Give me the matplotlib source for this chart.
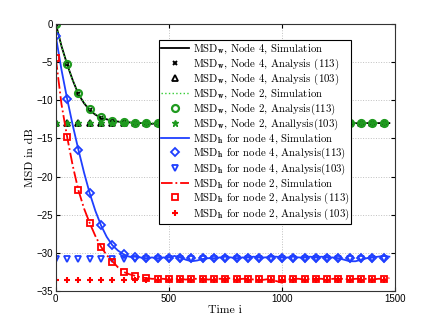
import matplotlib
matplotlib.use("Agg")
import matplotlib.pyplot as plt
import numpy as np

# analysis points, every 50 samples
t_marks = list(range(0, 1500, 50))
w4_analysis = [0.0, -5.3, -9.2, -11.3, -12.3, -12.7, -12.9, -13.0, -13.0, -13.0,
               -13.0, -13.0, -13.0, -13.0, -13.0, -13.0, -13.0, -13.0, -13.0, -13.0,
               -13.0, -13.0, -13.0, -13.0, -13.0, -13.0, -13.0, -13.0, -13.0, -13.0]
w2_analysis = [0.0, -5.3, -9.1, -11.2, -12.2, -12.7, -12.9, -13.0, -13.0, -13.0,
               -13.0, -13.0, -13.0, -13.0, -13.0, -13.0, -13.0, -13.0, -13.0, -13.0,
               -13.0, -13.0, -13.0, -13.0, -13.0, -13.0, -13.0, -13.0, -13.0, -13.0]
h4_analysis = [-1.6, -9.8, -16.5, -22.2, -26.4, -29.0, -30.1, -30.5, -30.7, -30.7,
               -30.7, -30.7, -30.7, -30.7, -30.7, -30.7, -30.7, -30.7, -30.7, -30.7,
               -30.7, -30.7, -30.7, -30.7, -30.7, -30.7, -30.7, -30.7, -30.7, -30.7]
h2_analysis = [-4.5, -14.8, -21.8, -26.1, -29.2, -31.2, -32.5, -33.0, -33.3, -33.4,
               -33.4, -33.4, -33.4, -33.4, -33.4, -33.4, -33.4, -33.4, -33.4, -33.4,
               -33.4, -33.4, -33.4, -33.4, -33.4, -33.4, -33.4, -33.4, -33.4, -33.4]

# steady-state analysis (103)
w4_ss = -13.0
w2_ss = -13.0
h4_ss = -30.8
h2_ss = -33.6

# simulation curves, every 25 samples
t_sim = list(range(0, 1500, 25))
w4_sim = [0.0, -2.9, -5.3, -7.4, -9.2, -10.4, -11.3, -11.9, -12.3, -12.5,
          -12.7, -12.8, -12.9, -12.9, -13.0, -13.0, -13.0, -13.1, -13.0, -13.0,
          -12.9, -13.0, -13.0, -13.0, -13.1, -13.0, -13.0, -13.0, -12.9, -13.0,
          -13.0, -13.0, -13.0, -13.1, -13.0, -13.0, -13.0, -13.0, -12.9, -13.0,
          -13.0, -13.0, -13.1, -13.0, -13.0, -13.0, -13.0, -13.0, -13.0, -12.9,
          -13.0, -13.0, -13.0, -13.0, -13.1, -13.0, -13.0, -13.0, -13.0, -13.0]
w2_sim = [0.0, -2.9, -5.3, -7.4, -9.1, -10.3, -11.2, -11.8, -12.2, -12.5,
          -12.7, -12.8, -12.9, -12.9, -13.0, -13.0, -13.0, -13.0, -13.0, -13.0,
          -13.0, -13.0, -13.0, -13.0, -13.0, -13.0, -13.0, -13.0, -13.0, -13.0,
          -13.0, -13.0, -13.0, -13.0, -13.0, -13.0, -13.0, -13.0, -13.0, -13.0,
          -13.0, -13.0, -13.0, -13.0, -13.0, -13.0, -13.0, -13.0, -13.0, -13.0,
          -13.0, -13.0, -13.0, -13.0, -13.0, -13.0, -13.0, -13.0, -13.0, -13.0]
h4_sim = [-1.6, -6.0, -9.8, -13.3, -16.5, -19.5, -22.2, -24.5, -26.4, -27.9,
          -29.0, -29.7, -30.2, -30.5, -30.5, -30.6, -30.7, -30.6, -30.7, -30.6,
          -30.6, -30.4, -30.6, -30.9, -31.1, -31.0, -30.8, -30.7, -30.7, -30.6,
          -30.5, -30.6, -30.7, -30.6, -30.6, -30.5, -30.6, -30.6, -30.5, -30.5,
          -30.6, -30.6, -30.5, -30.6, -30.6, -30.5, -30.6, -30.5, -30.6, -30.6,
          -30.7, -30.9, -31.1, -31.1, -30.9, -30.7, -30.6, -30.5, -30.4, -30.5]
h2_sim = [-4.5, -10.5, -14.8, -18.6, -21.8, -24.2, -26.1, -27.8, -29.2, -30.3,
          -31.1, -31.9, -32.5, -32.8, -33.0, -33.2, -33.3, -33.4, -33.4, -33.4,
          -33.5, -33.4, -33.4, -33.5, -33.4, -33.4, -33.4, -33.5, -33.4, -33.4,
          -33.4, -33.3, -33.5, -33.4, -33.4, -33.5, -33.6, -33.5, -33.4, -33.7,
          -33.9, -33.5, -33.4, -33.4, -33.5, -33.4, -33.4, -33.4, -33.5, -33.4,
          -33.4, -33.4, -33.5, -33.4, -33.4, -33.4, -33.5, -33.4, -33.4, -33.3]

plt.rcParams["mathtext.fontset"] = "cm"
plt.rcParams["font.family"] = ["Liberation Sans", "DejaVu Sans"]

fig = plt.figure(figsize=(4.36, 3.27), dpi=100)
ax = fig.add_axes([0.128, 0.110, 0.778, 0.817])

blue = "#1f3fff"
green = "#1f9a1f"
red = "#ff0000"
ms_ss = np.ones(len(t_marks))

ax.plot(t_sim, w4_sim, "-", color="black", lw=1.3,
        label=r"MSD$_{\mathbf{w}}$, Node 4, Simulation")
ax.plot(t_marks, w4_analysis, "x", color="black", ms=3, mew=1.4, ls="none",
        label=r"MSD$_{\mathbf{w}}$, Node 4, Analysis (113)")
ax.plot(t_marks, w4_ss * ms_ss, "^", color="black", mfc="none", ms=4.5, mew=1.3, ls="none",
        label=r"MSD$_{\mathbf{w}}$, Node 4, Analysis (103)")
ax.plot(t_sim, w2_sim, ":", color="#33cc33", lw=1.0,
        label=r"MSD$_{\mathbf{w}}$, Node 2, Simulation")
ax.plot(t_marks, w2_analysis, "o", color=green, mfc="none", ms=5, mew=1.6, ls="none",
        label=r"MSD$_{\mathbf{w}}$, Node 2, Analysis(113)")
ax.plot(t_marks, w2_ss * ms_ss, "*", color=green, ms=4.5, mew=1.0, ls="none",
        label=r"MSD$_{\mathbf{w}}$, Node 2, Anallysis(103)")
ax.plot(t_sim, h4_sim, "-", color=blue, lw=1.3,
        label=r"MSD$_{\mathbf{h}}$ for node 4, Simulation")
ax.plot(t_marks, h4_analysis, "D", color=blue, mfc="none", ms=4, mew=1.3, ls="none",
        label=r"MSD$_{\mathbf{h}}$ for node 4, Analysis(113)")
ax.plot(t_marks, h4_ss * ms_ss, "v", color=blue, mfc="none", ms=4.5, mew=1.3, ls="none",
        label=r"MSD$_{\mathbf{h}}$ for node 4, Analysis(103)")
ax.plot(t_sim, h2_sim, "-.", color=red, lw=1.3,
        label=r"MSD$_{\mathbf{h}}$ for node 2, Simulation")
ax.plot(t_marks, h2_analysis, "s", color=red, mfc="none", ms=4, mew=1.3, ls="none",
        label=r"MSD$_{\mathbf{h}}$ for node 2, Analysis (113)")
ax.plot(t_marks, h2_ss * ms_ss, "+", color=red, ms=4, mew=1.5, ls="none",
        label=r"MSD$_{\mathbf{h}}$ for node 2, Analysis (103)")

ax.set_xlim(0, 1500)
ax.set_ylim(-35, 0)
ax.set_xticks([0, 500, 1000, 1500])
ax.set_yticks([-35, -30, -25, -20, -15, -10, -5, 0])
ax.tick_params(direction="in", labelsize=7, length=3, top=True, right=True, pad=2)
ax.grid(True, ls=":", color="#c0c0c0", lw=0.7)
for s in ax.spines.values():
    s.set_linewidth(0.8)
    s.set_color("#333333")

ax.set_xlabel("Time i", family="cmr10", fontsize=8.5, labelpad=1)
ax.set_ylabel("MSD in dB", family="cmr10", fontsize=8.5, labelpad=1)

leg = ax.legend(loc="upper left", bbox_to_anchor=(0.304, 0.940), borderaxespad=0,
                prop={"family": "cmr10", "size": 7.8}, handlelength=2.6,
                handletextpad=0.3, labelspacing=0.0, borderpad=0.2,
                fancybox=False, framealpha=1, edgecolor="black")
leg.get_frame().set_linewidth(0.8)

fig.savefig("out.png", dpi=100)
